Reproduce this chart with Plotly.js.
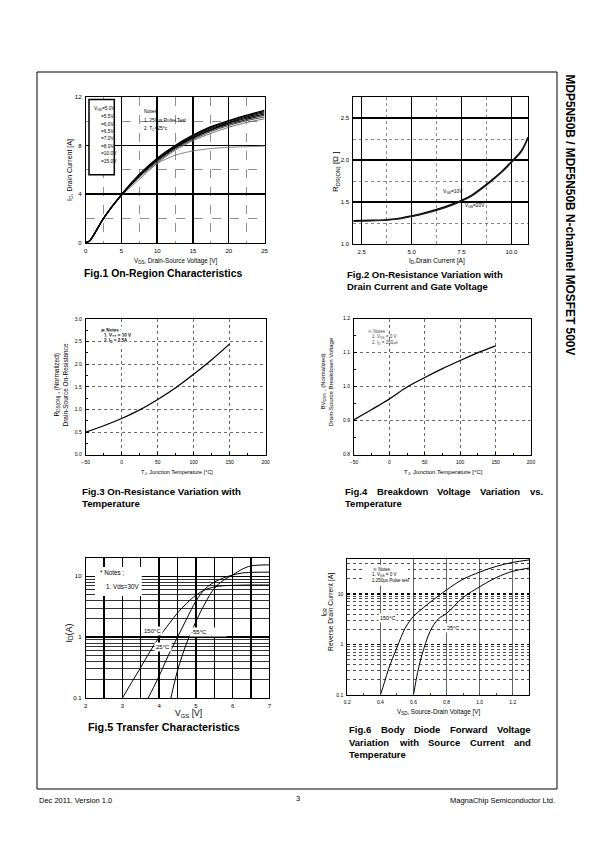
<!DOCTYPE html>
<html><head><meta charset="utf-8">
<script src="https://cdn.plot.ly/plotly-3.0.1.min.js"></script>
<style>html,body{margin:0;padding:0;background:#fff}#chart{width:595px;height:842px}</style>
</head><body><div id="chart"></div>
<script>
// ---------------- DATA ----------------
// Fig.1 On-Region Characteristics
const fig1Vds   = [0, 0.5, 1, 2.5, 5, 7.5, 10, 12.5, 15, 17.5, 20, 22.5, 25];
const fig1Vgs50  = [0, 0.1, 0.5, 2.0, 3.85, 5.2, 6.5, 7.2, 7.55, 7.75, 7.85, 7.9, 7.95];
const fig1Vgs55  = [0, 0.1, 0.5, 2.0, 3.9, 5.35, 6.55, 7.6, 8.4, 9.0, 9.5, 9.9, 10.2];
const fig1Vgs60  = [0, 0.1, 0.5, 2.0, 3.9, 5.45, 6.65, 7.7, 8.5, 9.15, 9.65, 10.05, 10.35];
const fig1Vgs65  = [0, 0.1, 0.5, 2.0, 3.9, 5.5, 6.75, 7.8, 8.6, 9.25, 9.75, 10.15, 10.5];
const fig1Vgs70  = [0, 0.1, 0.5, 2.0, 3.9, 5.5, 6.8, 7.85, 8.65, 9.3, 9.85, 10.25, 10.6];
const fig1Vgs80  = [0, 0.1, 0.5, 2.0, 3.95, 5.55, 6.85, 7.9, 8.7, 9.4, 9.9, 10.35, 10.7];
const fig1Vgs100 = [0, 0.1, 0.5, 2.0, 3.95, 5.6, 6.9, 7.95, 8.8, 9.5, 10.0, 10.45, 10.8];
const fig1Vgs150 = [0, 0.1, 0.5, 2.0, 3.95, 5.6, 6.95, 8.0, 8.85, 9.55, 10.05, 10.5, 10.9];
const fig1Legend = ['V<sub>GS</sub>=5.0V', '=5.5V', '=6.0V', '=6.5V', '=7.0V', '=8.0V', '=10.0V', '=15.0V'];

// Fig.2 On-Resistance vs Drain Current
const fig2Id    = [2.08, 2.5, 3.0, 3.75, 4.5, 5.0, 5.5, 6.25, 7.0, 7.5, 8.0, 8.75, 9.5, 10.0, 10.5, 10.83];
const fig2Vgs10 = [1.278, 1.28, 1.283, 1.29, 1.31, 1.335, 1.36, 1.41, 1.47, 1.52, 1.58, 1.71, 1.86, 1.98, 2.11, 2.27];
const fig2Vgs20 = [1.27, 1.272, 1.276, 1.283, 1.302, 1.327, 1.352, 1.40, 1.46, 1.51, 1.57, 1.70, 1.85, 1.97, 2.10, 2.26];

// Fig.3 On-Resistance vs Temperature
const fig3Tj  = [-50, -25, 0, 25, 50, 75, 100, 125, 150];
const fig3Rds = [0.5, 0.64, 0.8, 0.99, 1.22, 1.48, 1.78, 2.1, 2.45];

// Fig.4 Breakdown Voltage vs Temperature
const fig4Tj  = [-50, -25, 0, 25, 50, 75, 100, 125, 150];
const fig4BV  = [0.903, 0.933, 0.964, 0.999, 1.027, 1.053, 1.077, 1.1, 1.12];

// Fig.5 Transfer Characteristics
const fig5Vgs150 = [3.0, 3.25, 3.5, 3.75, 4.0, 4.25, 4.5, 4.75, 5.0, 5.25, 5.5, 5.75, 6.0, 6.5, 7.0];
const fig5Id150  = [0.1, 0.18, 0.32, 0.58, 1.0, 1.6, 2.5, 3.6, 4.9, 6.0, 6.7, 7.0, 7.1, 7.2, 7.2];
const fig5Vgs25  = [3.7, 3.85, 4.0, 4.25, 4.5, 4.75, 5.0, 5.25, 5.5, 5.75, 6.0, 6.25, 6.5, 7.0];
const fig5Id25   = [0.1, 0.15, 0.23, 0.5, 1.0, 2.0, 3.9, 6.2, 8.0, 9.4, 10.5, 11.3, 11.6, 11.7];
const fig5Vgs55  = [4.32, 4.5, 4.75, 5.0, 5.25, 5.5, 5.75, 6.0, 6.25, 6.5, 7.0];
const fig5Id55   = [0.1, 0.28, 0.8, 1.8, 3.6, 6.3, 8.6, 10.5, 13.0, 14.8, 15.4];
const fig5Labels = ['150°C', '25°C', '-55°C'];

// Fig.6 Body Diode Forward Voltage
const fig6Vsd150 = [0.4, 0.425, 0.45, 0.5, 0.55, 0.6, 0.65, 0.7, 0.8, 0.9, 1.0, 1.1, 1.2, 1.3];
const fig6Idr150 = [0.1, 0.18, 0.33, 0.87, 2.1, 3.6, 5.0, 6.8, 12, 19.5, 27, 35, 42, 47];
const fig6Vsd25  = [0.6, 0.625, 0.65, 0.7, 0.75, 0.8, 0.9, 1.0, 1.1, 1.2, 1.3];
const fig6Idr25  = [0.1, 0.28, 0.6, 1.8, 3.2, 4.1, 8.5, 13.8, 21, 28, 32.5];
const fig6Labels = ['150°C', '25°C'];

// log grid positions (minor)
const fig5MinorTicks = [0.2,0.3,0.4,0.5,0.6,0.7,0.8,0.9,2,3,4,5,6,7,8,9,20];
const fig6MinorTicks = [0.2,0.3,0.4,0.5,0.6,0.7,0.8,0.9,2,3,4,5,6,7,8,9,20,30,40];

// ---------------- LAYOUT HELPERS ----------------
const W = 595, H = 842;
const px = x => x / W, py = y => 1 - y / H;
const FONT = 'Liberation Sans, Arial, sans-serif';
function dx(x0, x1) { return [px(x0), px(x1)]; }
function dy(y0, y1) { return [py(y1), py(y0)]; }
function ax(extra) {
  return Object.assign({
    showline: true, mirror: true, linecolor: '#000', linewidth: 1,
    zeroline: false, ticks: '', fixedrange: true, showgrid: true,
    gridcolor: '#000', gridwidth: 1,
    tickfont: { family: FONT, size: 6, color: '#000' },
    ticklabelstandoff: 2
  }, extra);
}
function T(text, x, y, size, opts) {
  return Object.assign({
    text: text, xref: 'paper', yref: 'paper', x: px(x), y: py(y), showarrow: false,
    font: { family: FONT, size: size, color: '#000' }, xanchor: 'left', yanchor: 'middle'
  }, opts || {});
}
function B(text, x, y, size, opts) { return T('<b>' + text + '</b>', x, y, size, opts); }
const cv = document.createElement('canvas').getContext('2d');
function justify(ws, x0, x1, y, size) {
  cv.font = 'bold ' + size + 'px "Liberation Sans", Arial, sans-serif';
  const widths = ws.map(w => cv.measureText(w).width);
  const total = widths.reduce((a, b) => a + b, 0);
  const gap = (x1 - x0 - total) / (ws.length - 1);
  let x = x0;
  ws.forEach((w, i) => { A.push(B(w, x, y, size, { xshift: 0 })); x += widths[i] + gap; });
}

// ---------------- TRACES ----------------
const traces = [];
const f1 = [fig1Vgs50, fig1Vgs55, fig1Vgs60, fig1Vgs65, fig1Vgs70, fig1Vgs80, fig1Vgs100, fig1Vgs150];
const f1col = ['#777', '#666', '#444', '#222', '#000', '#000', '#111', '#000'];
const f1w = [0.9, 0.9, 1.0, 1.1, 1.2, 1.2, 1.3, 1.4];
f1.forEach((ys, i) => traces.push({ x: fig1Vds, y: ys, xaxis: 'x', yaxis: 'y', mode: 'lines',
  line: { color: f1col[i], width: f1w[i], shape: 'spline', smoothing: 0.8 } }));

traces.push({ x: fig2Id, y: fig2Vgs10, xaxis: 'x2', yaxis: 'y2', mode: 'lines', line: { color: '#000', width: 1.5, shape: 'spline' } });
traces.push({ x: fig2Id, y: fig2Vgs20, xaxis: 'x2', yaxis: 'y2', mode: 'lines', line: { color: '#222', width: 1.2, shape: 'spline' } });

traces.push({ x: fig3Tj, y: fig3Rds, xaxis: 'x3', yaxis: 'y3', mode: 'lines', line: { color: '#000', width: 1.3, shape: 'spline' } });
traces.push({ x: fig4Tj, y: fig4BV, xaxis: 'x4', yaxis: 'y4', mode: 'lines', line: { color: '#000', width: 1.3, shape: 'spline' } });

traces.push({ x: fig5Vgs150, y: fig5Id150, xaxis: 'x5', yaxis: 'y5', mode: 'lines', line: { color: '#000', width: 1, shape: 'spline' } });
traces.push({ x: fig5Vgs25, y: fig5Id25, xaxis: 'x5', yaxis: 'y5', mode: 'lines', line: { color: '#000', width: 1, shape: 'spline' } });
traces.push({ x: fig5Vgs55, y: fig5Id55, xaxis: 'x5', yaxis: 'y5', mode: 'lines', line: { color: '#000', width: 1, shape: 'spline' } });

traces.push({ x: fig6Vsd150, y: fig6Idr150, xaxis: 'x6', yaxis: 'y6', mode: 'lines', line: { color: '#000', width: 1, shape: 'spline' } });
traces.push({ x: fig6Vsd25, y: fig6Idr25, xaxis: 'x6', yaxis: 'y6', mode: 'lines', line: { color: '#000', width: 1, shape: 'spline' } });

// ---------------- LAYOUT ----------------
const layout = {
  width: W, height: H, margin: { l: 0, r: 0, t: 0, b: 0 },
  paper_bgcolor: '#fff', plot_bgcolor: 'rgba(0,0,0,0)', showlegend: false,
  font: { family: FONT, color: '#000' },
  // Fig1
  xaxis: ax({ domain: dx(85.7, 264.5), anchor: 'y', range: [0, 25], tick0: 0, dtick: 5, gridwidth: 1.5,
    minor: { dtick: 2.5, tick0: 0, showgrid: true, gridcolor: '#444', gridwidth: 0.6, griddash: 'dash' } }),
  yaxis: ax({ domain: dy(97, 242.5), anchor: 'x', range: [0, 12], tick0: 0, dtick: 4, gridwidth: 1.5,
    minor: { dtick: 2, tick0: 0, showgrid: true, gridcolor: '#444', gridwidth: 0.6, griddash: 'dash' } }),
  // Fig2
  xaxis2: ax({ domain: dx(353.3, 528), anchor: 'y2', range: [2.08, 10.83], tick0: 2.5, dtick: 2.5, tickformat: '.1f', gridwidth: 1.3,
    minor: { dtick: 1.25, tick0: 2.5, showgrid: true, gridcolor: '#555', gridwidth: 0.7, griddash: 'dot' } }),
  yaxis2: ax({ domain: dy(97, 244), anchor: 'x2', range: [1.0, 2.75], tick0: 1, dtick: 0.5, tickformat: '.1f', gridwidth: 1.3,
    minor: { dtick: 0.25, tick0: 1, showgrid: true, gridcolor: '#555', gridwidth: 0.7, griddash: 'dot' } }),
  // Fig3
  xaxis3: ax({ domain: dx(85.7, 265.7), anchor: 'y3', range: [-50, 200], tick0: -50, dtick: 50, gridcolor: '#444', gridwidth: 0.8, griddash: 'dot',
    ticks: 'inside', ticklen: 3, tickcolor: '#000', tickfont: { family: FONT, size: 5, color: '#000' },
    minor: { dtick: 25, ticks: 'inside', ticklen: 2, showgrid: false } }),
  yaxis3: ax({ domain: dy(319, 454.7), anchor: 'x3', range: [0, 3], tick0: 0, dtick: 0.5, tickformat: '.1f', gridcolor: '#444', gridwidth: 0.8, griddash: 'dot',
    ticks: 'inside', ticklen: 3, tickcolor: '#000', tickfont: { family: FONT, size: 5, color: '#000' },
    minor: { dtick: 0.25, ticks: 'inside', ticklen: 2, showgrid: false } }),
  // Fig4
  xaxis4: ax({ domain: dx(354, 531), anchor: 'y4', range: [-50, 200], tick0: -50, dtick: 50, gridcolor: '#444', gridwidth: 0.8, griddash: 'dot',
    ticks: 'inside', ticklen: 3, tickcolor: '#000', tickfont: { family: FONT, size: 5, color: '#000' },
    minor: { dtick: 25, ticks: 'inside', ticklen: 2, showgrid: false } }),
  yaxis4: ax({ domain: dy(318.7, 454.7), anchor: 'x4', range: [0.8, 1.2], tick0: 0.8, dtick: 0.1, tickformat: '.1f', gridcolor: '#444', gridwidth: 0.8, griddash: 'dot',
    ticks: 'inside', ticklen: 3, tickcolor: '#000', tickfont: { family: FONT, size: 5, color: '#000' },
    minor: { dtick: 0.05, ticks: 'inside', ticklen: 2, showgrid: false } }),
  // Fig5
  xaxis5: ax({ domain: dx(85.7, 269.3), anchor: 'y5', range: [2, 7], tick0: 2, dtick: 1, gridwidth: 1.3,
    minor: { dtick: 0.5, tick0: 2, showgrid: true, gridcolor: '#000', gridwidth: 1.3 } }),
  yaxis5: ax({ domain: dy(558, 698), anchor: 'x5', type: 'log', range: [-1, 1.301], tickmode: 'array',
    tickvals: [0.1, 1, 10], ticktext: ['0.1', '1', '10'], gridwidth: 1.6,
    minor: { tickmode: 'array', tickvals: fig5MinorTicks, showgrid: true, gridcolor: '#000', gridwidth: 0.8 } }),
  // Fig6
  xaxis6: ax({ domain: dx(347.3, 529.3), anchor: 'y6', range: [0.2, 1.3], tick0: 0.2, dtick: 0.2, tickformat: '.1f', gridcolor: '#222', gridwidth: 0.7,
    ticks: 'inside', ticklen: 2, tickfont: { family: FONT, size: 5, color: '#000' },
    minor: { dtick: 0.1, tick0: 0.2, ticks: 'inside', ticklen: 2, showgrid: false } }),
  yaxis6: ax({ domain: dy(559, 695), anchor: 'x6', type: 'log', range: [-1, 1.69], tickmode: 'array',
    tickvals: [0.1, 1, 10], ticktext: ['0.1', '1', '10'], gridwidth: 1.5, griddash: 'dot', gridcolor: '#000',
    tickfont: { family: FONT, size: 5, color: '#000' },
    minor: { tickmode: 'array', tickvals: fig6MinorTicks, showgrid: true, gridcolor: '#222', gridwidth: 0.8 } }),
  shapes: [
    { type: 'rect', xref: 'paper', yref: 'paper', x0: px(37), x1: px(557), y0: py(72), y1: py(789), line: { color: '#000', width: 1 } },
    // Fig1 legend box
    { type: 'rect', xref: 'paper', yref: 'paper', x0: px(89), x1: px(114.3), y0: py(99.5), y1: py(174.7), fillcolor: '#fff', line: { color: '#000', width: 1.5 }, layer: 'above' },
    // Fig5 notes box
    { type: 'rect', xref: 'paper', yref: 'paper', x0: px(95), x1: px(141.7), y0: py(567), y1: py(596), fillcolor: '#fff', line: { width: 0 }, layer: 'above' },
    // Fig6 notes box
    { type: 'rect', xref: 'paper', yref: 'paper', x0: px(363), x1: px(408), y0: py(565), y1: py(586), fillcolor: '#fff', line: { width: 0 }, layer: 'above' }
  ],
  annotations: []
};

const A = layout.annotations;
// right vertical header
A.push(B('MDP5N50B / MDF5N50B N-channel MOSFET 500V', 569, 72, 11.9, { textangle: 90, xanchor: 'center', yanchor: 'top' }));
// footer
A.push(T('Dec 2011. Version 1.0', 37, 800, 7.5));
A.push(T('3', 298, 798, 7.5, { xanchor: 'center' }));
A.push(T('MagnaChip Semiconductor Ltd.', 557, 800, 7.5, { xanchor: 'right' }));

// Fig1 texts
A.push(T('I<sub>D</sub>, Drain Current [A]', 70, 170, 7, { textangle: -90, xanchor: 'center' }));
A.push(T('V<sub>DS</sub>, Drain-Source Voltage [V]', 175, 261, 6.3, { xanchor: 'center' }));
A.push(B('Fig.1 On-Region Characteristics', 82, 273, 10.4));
const f1ly = [108.7, 116.3, 124.3, 131.7, 138.7, 146.3, 154, 161.3];
fig1Legend.forEach((t, i) => A.push(T(t, i === 0 ? 92 : 98.5, f1ly[i], 4.8)));
A.push(T('Notes', 141.5, 111, 4.8));
A.push(T('1. 250μs Pulse Test', 141.5, 120, 4.8));
A.push(T('2. T<sub>C</sub>=25°c', 141.5, 128.5, 4.8));

// Fig2 texts
A.push(T('R<sub>DS(ON)</sub> [Ω ]', 336, 172, 8, { textangle: -90, xanchor: 'center' }));
A.push(T('I<sub>D</sub>,Drain Current [A]', 437, 261, 6.5, { xanchor: 'center' }));
A.push(B('Fig.2 On-Resistance Variation with', 345, 274, 9.5));
A.push(B('Drain Current and Gate Voltage', 345, 286.5, 9.5));
A.push({ text: 'V<sub>GS</sub>=10V', xref: 'x2', yref: 'y2', x: 7.08, y: 1.62, showarrow: false, font: { family: FONT, size: 4.8, color: '#000' } });
A.push({ text: 'V<sub>GS</sub>=20V', xref: 'x2', yref: 'y2', x: 8.17, y: 1.45, showarrow: false, font: { family: FONT, size: 4.8, color: '#000' } });

// Fig3 texts
A.push(T('R<sub>DS(ON)</sub> , (Normalized)', 56.5, 385, 6.5, { textangle: -90, xanchor: 'center' }));
A.push(T('Drain-Source On-Resistance', 64.5, 385, 6.5, { textangle: -90, xanchor: 'center' }));
A.push(T('T<sub>J</sub>, Junction Temperature [°C]', 177, 472, 5.5, { xanchor: 'center' }));
A.push(B('Fig.3 On-Resistance Variation with', 80, 491, 9.7));
A.push(B('Temperature', 80, 503.5, 9.7));
A.push(B('※ Notes :', 98.5, 330.5, 4.5, { bgcolor: '#fff' }));
A.push(B('1. V<sub>GS</sub> = 10 V', 101.5, 336, 4.5, { bgcolor: '#fff' }));
A.push(B('2. I<sub>D</sub> = 2.5A', 101.5, 341, 4.5, { bgcolor: '#fff' }));

// Fig4 texts
A.push(T('BV<sub>DSS</sub> , (Normalized)', 323.5, 382, 6, { textangle: -90, xanchor: 'center' }));
A.push(T('Drain-Source Breakdown Voltage', 330.5, 382, 6, { textangle: -90, xanchor: 'center' }));
A.push(T('T<sub>J</sub>, Junction Temperature [°C]', 443, 472, 6, { xanchor: 'center' }));
justify(['Fig.4', 'Breakdown', 'Voltage', 'Variation', 'vs.'], 343, 541, 491, 9.5);
A.push(B('Temperature', 343, 503.5, 9.5));
A.push(T('※ Notes :', 366, 331.3, 4.5, { font: { family: FONT, size: 4.5, color: '#444' } }));
A.push(T('1. V<sub>GS</sub> = 0 V', 369.5, 337.3, 4.5, { font: { family: FONT, size: 4.5, color: '#444' } }));
A.push(T('2. I<sub>D</sub> = 250㎂', 369.5, 342.5, 4.5, { font: { family: FONT, size: 4.5, color: '#444' } }));

// Fig5 texts
A.push(T('I<sub>D</sub>(A)', 68.5, 633, 9, { textangle: -90, xanchor: 'center' }));
A.push(T('V<sub>GS</sub> [V]', 188, 713.5, 8.5, { xanchor: 'center' }));
A.push(B('Fig.5 Transfer Characteristics', 86, 727, 10.8));
A.push(T('* Notes ;', 98, 572.5, 6.3));
A.push(T('1. Vds=30V', 104.5, 586.5, 6.3));
// log axis annotations use log10 of the value
A.push({ text: fig5Labels[0], xref: 'x5', yref: 'y5', x: 3.83, y: Math.log10(1.25), showarrow: false, xanchor: 'center', bgcolor: '#fff',
  font: { family: FONT, size: 6, color: '#000' } });
A.push({ text: fig5Labels[1], xref: 'x5', yref: 'y5', x: 4.1, y: Math.log10(0.68), showarrow: false, xanchor: 'center', bgcolor: '#fff',
  font: { family: FONT, size: 6, color: '#000' } });
A.push({ text: fig5Labels[2], xref: 'x5', yref: 'y5', x: 4.8, y: Math.log10(1.2), showarrow: false, xanchor: 'left', align: 'left', width: 34, bgcolor: '#fff',
  font: { family: FONT, size: 6, color: '#000' } });

// Fig6 texts
A.push(T('I<sub>DR</sub>', 323.5, 612, 6.5, { textangle: -90, xanchor: 'center' }));
A.push(T('Reverse Drain Current [A]', 331, 612, 6.8, { textangle: -90, xanchor: 'center' }));
A.push(T('V<sub>SD</sub>, Source-Drain Voltage [V]', 438, 711.5, 6.3, { xanchor: 'center' }));
justify(['Fig.6', 'Body', 'Diode', 'Forward', 'Voltage'], 347, 529, 729.5, 9.5);
justify(['Variation', 'with', 'Source', 'Current', 'and'], 347, 529, 742, 9.5);
A.push(B('Temperature', 347, 754.5, 9.5));
A.push(T('※ Notes :', 371, 569.5, 4.5));
A.push(T('1. V<sub>GS</sub> = 0 V', 369.5, 575, 4.5));
A.push(T('2.250μs Pulse test', 369.5, 580.5, 4.5));
A.push({ text: fig6Labels[0], xref: 'x6', yref: 'y6', x: 0.44, y: Math.log10(3.3), showarrow: false, xanchor: 'center', bgcolor: '#fff',
  font: { family: FONT, size: 5.5, color: '#000' } });
A.push({ text: fig6Labels[1], xref: 'x6', yref: 'y6', x: 0.84, y: Math.log10(2.1), showarrow: false, xanchor: 'center', bgcolor: '#fff',
  font: { family: FONT, size: 5.5, color: '#000' } });

Plotly.newPlot('chart', traces, layout, { staticPlot: true, displayModeBar: false });
</script>
</body></html>
